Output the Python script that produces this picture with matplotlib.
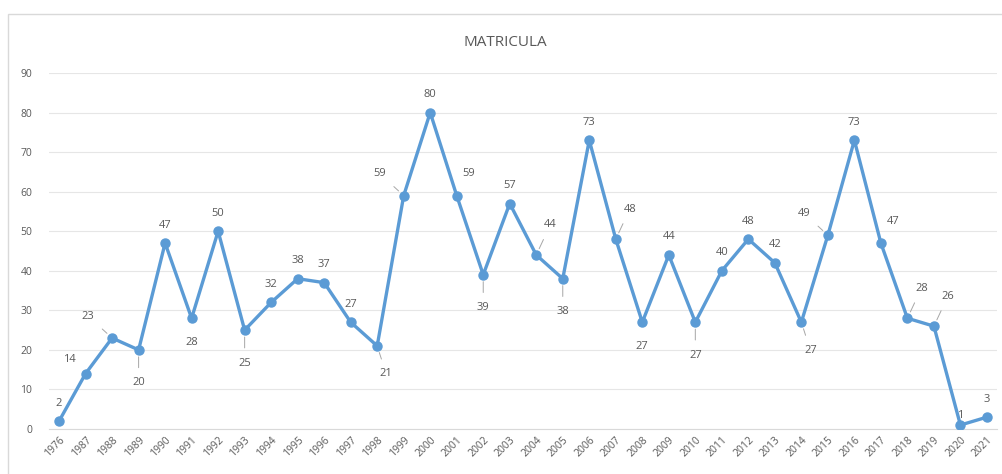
import matplotlib
matplotlib.use("Agg")
import matplotlib.pyplot as plt
from matplotlib.patches import Rectangle

years = ["1976", "1987", "1988", "1989", "1990", "1991", "1992", "1993", "1994", "1995",
         "1996", "1997", "1998", "1999", "2000", "2001", "2002", "2003", "2004", "2005",
         "2006", "2007", "2008", "2009", "2010", "2011", "2012", "2013", "2014", "2015",
         "2016", "2017", "2018", "2019", "2020", "2021"]
matricula = [2, 14, 23, 20, 47, 28, 50, 25, 32, 38,
             37, 27, 21, 59, 80, 59, 39, 57, 44, 38,
             73, 48, 27, 44, 27, 40, 48, 42, 27, 49,
             73, 47, 28, 26, 1, 3]
label_place = ["a", "al", "lw", "bw", "a", "b", "a", "bw", "a", "a",
               "a", "a", "brw", "lw", "a", "ar", "bw", "a", "arw", "bw",
               "a", "arw", "b", "a", "bw", "a", "a", "a", "brw", "lw",
               "a", "ar", "arw", "arw", "a1", "a"]

offsets = {
    "a": (0, 18, False), "a1": (0, 10, False), "al": (-16, 14, False),
    "ar": (12, 22, False), "arw": (14, 30, True), "b": (0, -24, False),
    "bw": (0, -33, True), "brw": (9, -28, True), "lw": (-24, 22, True),
}

plt.rcParams["font.family"] = ["Open Sans", "DejaVu Sans"]
text_col = "#595959"
line_col = "#5B9BD5"

fig = plt.figure(figsize=(10.02, 4.74), dpi=100)
fig.patches.append(Rectangle((8 / 1002, -0.01), 1.0, (474 - 14) / 474 + 0.01,
                             transform=fig.transFigure, fill=False,
                             edgecolor="#d9d9d9", linewidth=1.0))
ax = fig.add_axes([49 / 1002, 45 / 474, (997 - 49) / 1002, (429 - 73) / 474])

x = list(range(len(years)))
ax.plot(x, matricula, color=line_col, linewidth=2.4, marker="o", markersize=6.5,
        markerfacecolor=line_col, markeredgecolor=line_col, zorder=3)

for xi, v, p in zip(x, matricula, label_place):
    dx, dy, leader = offsets[p]
    kw = {}
    if leader:
        kw["arrowprops"] = dict(arrowstyle="-", color="#a6a6a6", lw=0.7,
                                shrinkA=5, shrinkB=5)
    ax.annotate(str(v), (xi, v), xytext=(dx, dy), textcoords="offset pixels",
                ha="center", va="center", fontsize=8, color=text_col, **kw)

ax.set_xlim(-0.38, len(years) - 1 + 0.38)
ax.set_ylim(0, 90)
ax.set_yticks(range(0, 91, 10))
ax.set_xticks(x)
ax.set_xticklabels(years, rotation=45, ha="right", rotation_mode="anchor")
ax.tick_params(axis="both", length=0, labelsize=7.5, colors=text_col)
ax.tick_params(axis="y", pad=12)
ax.tick_params(axis="x", pad=4)
ax.grid(axis="y", color="#e6e6e6", linewidth=0.8)
ax.set_axisbelow(True)
for s in ["top", "right", "left"]:
    ax.spines[s].set_visible(False)
ax.spines["bottom"].set_color("#d9d9d9")

fig.text(505 / 1002, 1 - 42 / 474, "MATRICULA", ha="center", va="center",
         fontsize=11, color=text_col)

fig.savefig("out.png", dpi=100)
